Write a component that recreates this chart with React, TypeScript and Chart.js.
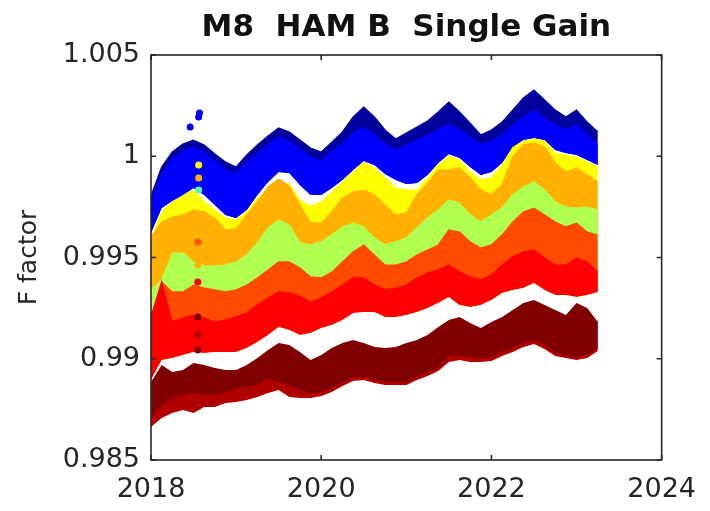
import { useEffect, useRef } from 'react';
import { Chart, registerables } from 'chart.js';

Chart.register(...registerables);

const years = [
  2018, 2018.125, 2018.25, 2018.375, 2018.5, 2018.625, 2018.75, 2018.875,
  2019, 2019.125, 2019.25, 2019.375, 2019.5, 2019.625, 2019.75, 2019.875,
  2020, 2020.125, 2020.25, 2020.375, 2020.5, 2020.625, 2020.75, 2020.875,
  2021, 2021.125, 2021.25, 2021.375, 2021.5, 2021.625, 2021.75, 2021.875,
  2022, 2022.125, 2022.25, 2022.375, 2022.5, 2022.625, 2022.75, 2022.875,
  2023, 2023.125, 2023.25,
];

const darkBlueTop = [0.99804, 0.99947, 1.00021, 1.0006, 1.0008, 1.00056, 1.00011, 0.99972, 0.99947, 1.00006, 1.00056, 1.001, 1.0014, 1.0012, 1.0008, 1.00041, 1.00021, 1.0007, 1.0012, 1.00194, 1.00243, 1.00194, 1.0013, 1.00085, 1.00115, 1.00144, 1.00174, 1.00219, 1.00268, 1.00219, 1.00164, 1.00105, 1.0013, 1.00169, 1.00228, 1.00288, 1.00327, 1.00278, 1.00228, 1.00194, 1.00228, 1.00169, 1.0012];
const blueTop = [0.99769, 0.99912, 0.99986, 1.00026, 1.00046, 1.00021, 0.99977, 0.99937, 0.99912, 0.99972, 1.00011, 1.00056, 1.00095, 1.00075, 1.00036, 0.99996, 0.99977, 1.00026, 1.0006, 1.00115, 1.00144, 1.00105, 1.0006, 1.00031, 1.00056, 1.0008, 1.001, 1.0013, 1.00159, 1.0013, 1.00095, 1.00056, 1.00075, 1.00105, 1.00149, 1.00194, 1.00228, 1.00189, 1.00154, 1.0013, 1.00159, 1.00105, 1.0006];
const blueBottom = [0.99621, 0.99744, 0.99779, 0.99809, 0.99843, 0.99809, 0.99759, 0.9971, 0.99695, 0.99735, 0.99809, 0.99873, 0.99922, 0.99917, 0.99858, 0.99809, 0.99809, 0.99843, 0.99883, 0.99932, 0.99977, 0.99957, 0.99912, 0.99883, 0.99863, 0.99868, 0.99907, 0.99967, 1.00011, 0.99991, 0.99947, 0.99907, 0.99922, 0.99967, 1.00046, 1.0008, 1.0009, 1.0008, 1.00031, 1.00016, 1.00006, 0.99982, 0.99957];
const yellowTop = [0.99586, 0.99725, 0.99774, 0.99804, 0.99833, 0.99774, 0.99735, 0.99695, 0.99685, 0.99725, 0.99794, 0.99833, 0.99873, 0.99863, 0.99784, 0.99754, 0.99774, 0.99823, 0.99873, 0.99922, 0.99972, 0.99942, 0.99893, 0.99843, 0.99833, 0.99833, 0.99893, 0.99957, 1.00001, 0.99982, 0.99922, 0.99883, 0.99893, 0.99957, 1.00041, 1.00075, 1.00085, 1.00075, 1.00016, 1.00006, 0.99996, 0.99972, 0.99947];
const orangeTop = [0.99601, 0.99675, 0.997, 0.9971, 0.99735, 0.99725, 0.99695, 0.99636, 0.99641, 0.9971, 0.99774, 0.99848, 0.99888, 0.99853, 0.99759, 0.9967, 0.9967, 0.99725, 0.99794, 0.99823, 0.99833, 0.99809, 0.99759, 0.9971, 0.9972, 0.99809, 0.99868, 0.99932, 0.99932, 0.99942, 0.99893, 0.99833, 0.99809, 0.99858, 0.99996, 1.00056, 1.00065, 1.00046, 0.99967, 0.99922, 0.99942, 0.99907, 0.99873];
const greenTop = [0.9934, 0.99389, 0.99522, 0.99522, 0.99478, 0.99458, 0.99458, 0.99463, 0.99478, 0.99512, 0.99572, 0.99646, 0.99685, 0.9966, 0.99572, 0.99562, 0.99577, 0.99611, 0.99651, 0.9967, 0.99651, 0.99596, 0.99562, 0.99577, 0.99596, 0.99646, 0.99695, 0.99735, 0.99784, 0.99769, 0.9971, 0.99675, 0.9971, 0.99744, 0.99809, 0.99848, 0.99873, 0.99833, 0.99774, 0.99749, 0.99744, 0.99749, 0.99735];
const orangeRedTop = [0.99206, 0.99379, 0.9933, 0.9933, 0.99364, 0.99349, 0.9934, 0.9933, 0.9934, 0.99364, 0.99399, 0.99438, 0.99478, 0.99478, 0.99448, 0.99404, 0.99399, 0.99428, 0.99478, 0.99527, 0.99562, 0.99512, 0.99463, 0.99463, 0.99478, 0.99512, 0.99537, 0.99562, 0.99636, 0.99626, 0.99577, 0.99547, 0.99562, 0.99611, 0.99675, 0.99725, 0.99744, 0.9971, 0.99675, 0.99651, 0.9967, 0.99626, 0.99611];
const redTop = [0.99206, 0.99379, 0.99182, 0.99201, 0.99216, 0.99201, 0.99182, 0.99191, 0.99206, 0.99226, 0.99265, 0.993, 0.9933, 0.99325, 0.9931, 0.9928, 0.993, 0.9933, 0.99364, 0.99399, 0.99399, 0.99364, 0.9934, 0.99349, 0.99364, 0.99399, 0.99423, 0.99438, 0.99463, 0.99428, 0.99404, 0.99389, 0.99414, 0.99463, 0.99502, 0.99527, 0.99537, 0.99497, 0.99463, 0.99463, 0.99497, 0.99478, 0.99428];
const redBottom = [0.98895, 0.98994, 0.99004, 0.99019, 0.99033, 0.99028, 0.99033, 0.99033, 0.99033, 0.99053, 0.99083, 0.99117, 0.99157, 0.99142, 0.99117, 0.99127, 0.99152, 0.99167, 0.99191, 0.99226, 0.99231, 0.99231, 0.99206, 0.99206, 0.99216, 0.99231, 0.99251, 0.99275, 0.99305, 0.99265, 0.99256, 0.99265, 0.9929, 0.99325, 0.9934, 0.99349, 0.99374, 0.9934, 0.99315, 0.99315, 0.99305, 0.99315, 0.9933];
const maroonTop = [0.98885, 0.98969, 0.98935, 0.98944, 0.98979, 0.98969, 0.98954, 0.98944, 0.98944, 0.98969, 0.99004, 0.99043, 0.99078, 0.99068, 0.99033, 0.98994, 0.99019, 0.99053, 0.99078, 0.99093, 0.99078, 0.99058, 0.99053, 0.99058, 0.99078, 0.99093, 0.99117, 0.99157, 0.99191, 0.99206, 0.99177, 0.99152, 0.99182, 0.99206, 0.99241, 0.99275, 0.9929, 0.99265, 0.99241, 0.99216, 0.99275, 0.99251, 0.99182];
const maroonBottom = [0.98707, 0.98772, 0.98806, 0.98821, 0.98831, 0.98821, 0.98821, 0.98836, 0.98856, 0.98861, 0.9887, 0.98905, 0.98885, 0.9887, 0.98846, 0.98831, 0.98836, 0.98856, 0.98885, 0.9891, 0.9891, 0.98895, 0.98885, 0.98885, 0.98885, 0.9891, 0.98935, 0.98954, 0.99014, 0.99019, 0.99009, 0.99004, 0.99009, 0.99033, 0.99053, 0.99078, 0.99093, 0.99068, 0.99033, 0.99019, 0.99009, 0.99019, 0.99053];
const darkRedBottom = [0.98663, 0.98707, 0.98732, 0.98747, 0.98732, 0.98762, 0.98762, 0.98782, 0.98786, 0.98796, 0.98811, 0.98831, 0.98846, 0.98811, 0.98806, 0.98806, 0.98816, 0.98836, 0.98866, 0.9889, 0.98895, 0.9888, 0.9887, 0.9887, 0.9887, 0.98895, 0.98915, 0.9894, 0.98984, 0.98994, 0.98984, 0.98984, 0.98989, 0.99014, 0.99033, 0.99058, 0.99073, 0.99048, 0.99014, 0.99004, 0.98994, 0.99004, 0.99038];

const outlierYears = [2018.46, 2018.56, 2018.57, 2018.56, 2018.56, 2018.56, 2018.55, 2018.55, 2018.55, 2018.55, 2018.55, 2018.55];
const outlierValues = [1.00144, 1.00194, 1.00214, 0.99957, 0.99893, 0.99833, 0.99577, 0.99463, 0.99379, 0.99206, 0.99117, 0.99043];
const outlierColors = ['#0000ee', '#0000ee', '#0000ee', '#ffff00', '#ffb000', '#50ffb0', '#ff4a00', '#ffb000', '#ff0000', '#800000', '#b00000', '#800000'];

const xTicks = [2018, 2020, 2022, 2024];
const yTicks = [0.985, 0.99, 0.995, 1, 1.005];

const TITLE = 'M8  HAM B  Single Gain';
const Y_TITLE = 'F factor';

const pts = (arr: number[]) => years.map((x, i) => ({ x, y: arr[i] }));

const bandPair = (top: number[], bottom: number[], color: string, order: number, edge = true) => [
  {
    data: pts(bottom),
    borderColor: 'rgba(0,0,0,0)',
    backgroundColor: 'rgba(0,0,0,0)',
    borderWidth: 1,
    pointRadius: 0,
    fill: false,
    order,
  },
  {
    data: pts(top),
    borderColor: edge ? color : 'rgba(0,0,0,0)',
    backgroundColor: color,
    borderWidth: 1.2,
    pointRadius: 0,
    fill: '-1',
    order,
  },
];

const boxPlugin = {
  id: 'matlabBox',
  afterDraw(chart: any) {
    const { ctx, chartArea: a, scales } = chart;
    const x = scales.x;
    const y = scales.y;
    ctx.save();
    ctx.strokeStyle = '#262626';
    ctx.lineWidth = 1.6;
    ctx.strokeRect(a.left, a.top, a.right - a.left, a.bottom - a.top);
    const tl = 5;
    ctx.beginPath();
    xTicks.forEach((v) => {
      const px = x.getPixelForValue(v);
      ctx.moveTo(px, a.bottom);
      ctx.lineTo(px, a.bottom - tl);
      ctx.moveTo(px, a.top);
      ctx.lineTo(px, a.top + tl);
    });
    yTicks.forEach((v) => {
      const py = y.getPixelForValue(v);
      ctx.moveTo(a.left, py);
      ctx.lineTo(a.left + tl, py);
      ctx.moveTo(a.right, py);
      ctx.lineTo(a.right - tl, py);
    });
    ctx.stroke();
    ctx.restore();
  },
};

export default function App() {
  const ref = useRef<HTMLCanvasElement | null>(null);

  useEffect(() => {
    if (!ref.current) return;
    const fontFamily = '"DejaVu Sans", sans-serif';
    // higher order is drawn first (underneath)
    const datasets: any[] = [
      ...bandPair(darkBlueTop, blueBottom, '#00009c', 20),
      ...bandPair(blueTop, blueBottom, '#0000ff', 19),
      ...bandPair(yellowTop, redBottom, '#ffff00', 18),
      ...bandPair(orangeTop, redBottom, '#ffb000', 17),
      ...bandPair(greenTop, redBottom, '#b0ff50', 16),
      ...bandPair(orangeRedTop, redBottom, '#ff4a00', 15),
      ...bandPair(redTop, redBottom, '#ff0000', 14),
      ...bandPair(redBottom, maroonTop, '#ffffff', 11, false),
      ...bandPair(maroonTop, darkRedBottom, '#b00000', 13),
      ...bandPair(maroonTop, maroonBottom, '#800000', 12),
      {
        type: 'scatter',
        data: outlierYears.map((x, i) => ({ x, y: outlierValues[i] })),
        showLine: false,
        fill: false,
        pointRadius: 3.5,
        pointBorderWidth: 0,
        pointBackgroundColor: outlierColors,
        order: 0,
      },
    ];

    const chart = new Chart(ref.current, {
      type: 'line',
      data: { datasets },
      plugins: [boxPlugin],
      options: {
        responsive: false,
        animation: false,
        events: [],
        layout: { padding: { left: 0, right: 38, top: 0, bottom: 0 } },
        elements: { line: { tension: 0 } },
        plugins: {
          legend: { display: false },
          tooltip: { enabled: false },
          filler: { propagate: false },
          title: {
            display: true,
            text: TITLE,
            fullSize: false,
            color: '#111111',
            font: { family: fontFamily, size: 31, weight: 'bold' },
            padding: { top: 9, bottom: 8.8 },
          },
        },
        scales: {
          x: {
            type: 'linear',
            min: 2018,
            max: 2024,
            afterBuildTicks: (s: any) => {
              s.ticks = xTicks.map((v) => ({ value: v }));
            },
            ticks: {
              color: '#262626',
              font: { family: fontFamily, size: 27 },
              padding: 14,
              maxRotation: 0,
              autoSkip: false,
              callback: (v: any) => String(v),
            },
            grid: { display: false, drawTicks: false },
            border: { display: false },
            afterFit: (s: any) => {
              s.height = 51;
            },
          },
          y: {
            type: 'linear',
            min: 0.985,
            max: 1.005,
            afterBuildTicks: (s: any) => {
              s.ticks = yTicks.map((v) => ({ value: v }));
            },
            ticks: {
              color: '#262626',
              font: { family: fontFamily, size: 27 },
              padding: 11,
              autoSkip: false,
              callback: (v: any) => String(parseFloat(Number(v).toFixed(4))),
            },
            grid: { display: false, drawTicks: false },
            border: { display: false },
            title: {
              display: true,
              text: Y_TITLE,
              color: '#262626',
              font: { family: fontFamily, size: 25 },
              padding: { top: 14, bottom: 0 },
            },
            afterFit: (s: any) => {
              s.width = 151;
            },
          },
        },
      } as any,
    });
    return () => chart.destroy();
  }, []);

  return (
    <div style={{ position: 'absolute', left: 0, top: 0, width: 710, height: 511, background: '#fff' }}>
      <canvas ref={ref} width={710} height={511} />
    </div>
  );
}
